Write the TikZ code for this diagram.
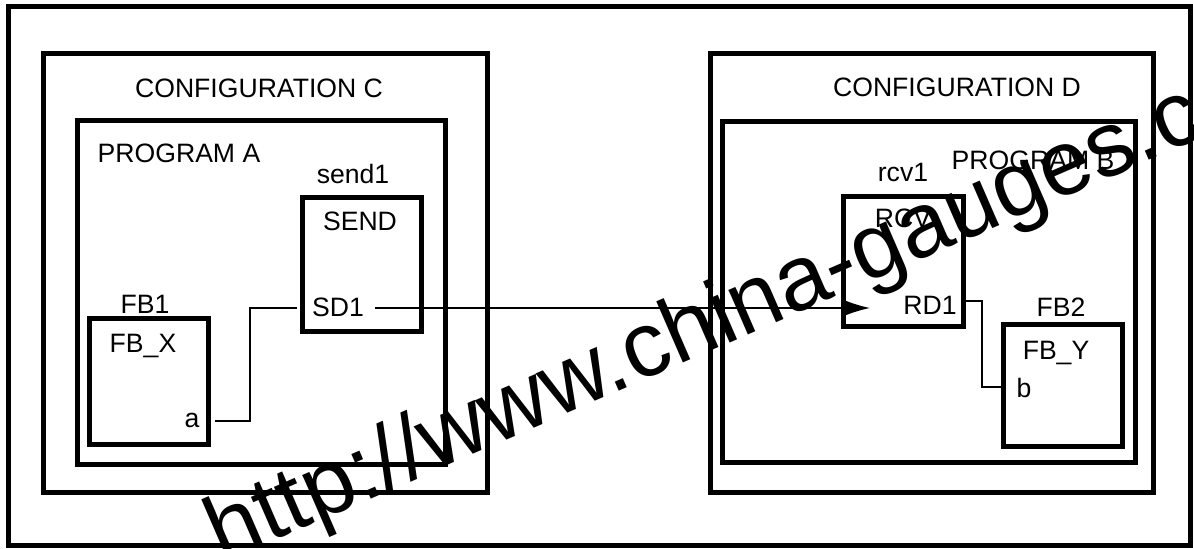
\documentclass[tikz,border=0pt]{standalone}
\usepackage{fontspec}
\setmainfont{Liberation Sans}
\usetikzlibrary{arrows.meta,fit}

\begin{document}
\begin{tikzpicture}[x=0.5pt,y=-0.5pt,
        box/.style={draw,line width=2.5pt,inner sep=0pt},
        lbl/.style={anchor=base,inner sep=0pt,font=\fontsize{13.3}{15}\selectfont},
        wire/.style={line width=1pt},
        wmark/.style={inner sep=0pt,rotate=23.5,font=\fontsize{46}{46}\selectfont}]
                \useasboundingbox (0,0) rectangle (1194,549);
                \node[box,fit={(8,7)(1190,546)}] (frame) {};
                % configuration C
                \node[box,fit={(43,54)(487,493)}] (confC) {};
                \node[box,fit={(77,121)(445,465)}] (progA) {};
                \node[box,fit={(89,319)(208,445)}] (fb1) {};
                \node[box,fit={(302,198)(421,332)}] (send1) {};
                \node[lbl] (confCl) at (259,98) {CONFIGURATION C};
                \node[lbl] (progAl) at (179,163) {PROGRAM A};
                \node[lbl] (fb1l) at (145,314) {FB1};
                \node[lbl] (fbx) at (143,353) {FB\_X};
                \node[lbl] (pa) at (192,428) {a};
                \node[lbl] (send1l) at (353,184) {send1};
                \node[lbl] (sendt) at (360,231) {SEND};
                \node[lbl] (psd1) at (338,317) {SD1};
                % configuration D
                \node[box,fit={(710,54)(1153,493)}] (confD) {};
                \node[box,fit={(722,122)(1135,463)}] (progB) {};
                \node[box,fit={(843,197)(963,327)}] (rcv1) {};
                \node[box,fit={(1003,325)(1122,447)}] (fb2) {};
                \node[lbl] (confDl) at (957,97) {CONFIGURATION D};
                \node[lbl] (progBl) at (1033,170) {PROGRAM B};
                \node[lbl] (rcv1l) at (903,182) {rcv1};
                \node[lbl] (rcvt) at (903,228) {RCV};
                \node[lbl] (prd1) at (930,315) {RD1};
                \node[lbl] (fb2l) at (1061,317) {FB2};
                \node[lbl] (fby) at (1056,360) {FB\_Y};
                \node[lbl] (pb) at (1024,398) {b};
                % connections
                \coordinate (aout) at (215,421);
                \coordinate (sdin) at (297,308);
                \coordinate (sdout) at (375,308);
                \coordinate (rdin) at (870,308);
                \coordinate (rdout) at (963,301);
                \coordinate (bin) at (1003,387);
                \draw[wire] (aout) -- ++(35,0) |- (sdin);
                \draw[wire,-{Latex[length=14pt,width=9pt]}] (sdout) -- (rdin);
                \draw[wire] (rdout) -- ++(19,0) |- (bin);
                \node[wmark] (url) at (764,302) {http://www.china-gauges.com};
\end{tikzpicture}
\end{document}
